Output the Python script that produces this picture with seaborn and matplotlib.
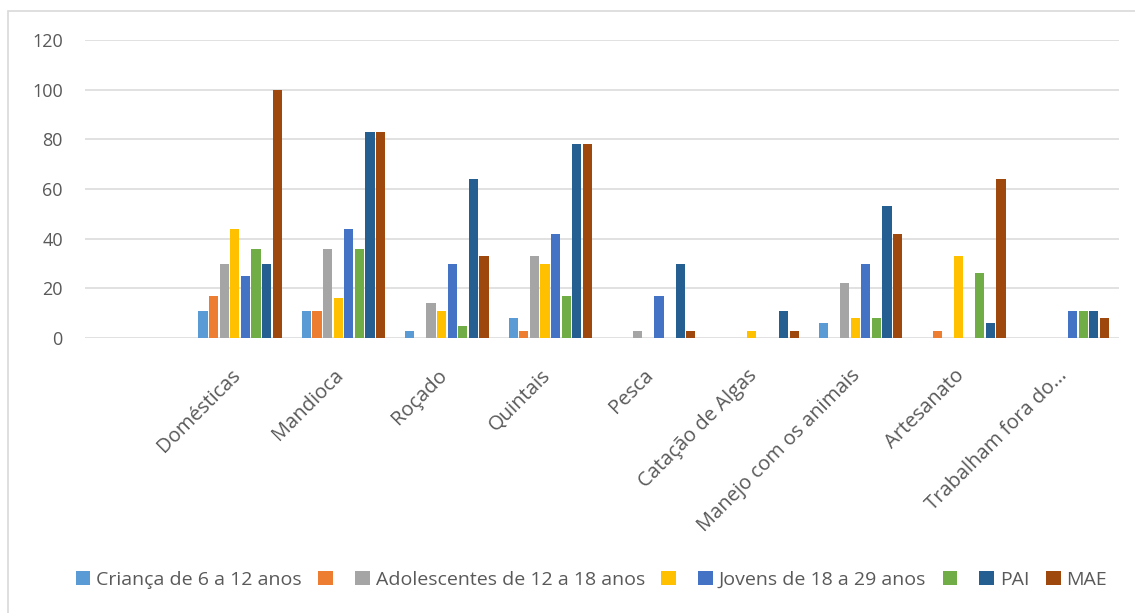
import pandas as pd
import matplotlib.pyplot as plt
import seaborn as sns
from matplotlib.patches import Patch, Rectangle
from matplotlib.transforms import ScaledTranslation

categorias = ["Domésticas", "Mandioca", "Roçado", "Quintais", "Pesca",
              "Catação de Algas", "Manejo com os animais", "Artesanato",
              "Trabalham fora do..."]

serie_nomes = ["Criança de 6 a 12 anos", "", "Adolescentes de 12 a 18 anos", "",
               "Jovens de 18 a 29 anos", "", "PAI", "MAE"]

crianca = [11, 11, 3, 8, 0, 0, 6, 0, 0]
serie2 = [17, 11, 0, 3, 0, 0, 0, 3, 0]
adolescentes = [30, 36, 14, 33, 3, 0, 22, 0, 0]
serie4 = [44, 16, 11, 30, 0, 3, 8, 33, 0]
jovens = [25, 44, 30, 42, 17, 0, 30, 0, 11]
serie6 = [36, 36, 5, 17, 0, 0, 8, 26, 11]
pai = [30, 83, 64, 78, 30, 11, 53, 6, 11]
mae = [100, 83, 33, 78, 3, 3, 42, 64, 8]

cores = ["#5B9BD5", "#ED7D31", "#A5A5A5", "#FFC000",
         "#4472C4", "#70AD47", "#255E91", "#9E480E"]

series = [crianca, serie2, adolescentes, serie4, jovens, serie6, pai, mae]
hue_ids = ["s%d" % i for i in range(len(series))]

rows = []
for sid, vals in zip(hue_ids, series):
    for cat, v in zip(categorias, vals):
        rows.append({"categoria": cat, "serie": sid, "valor": v})
df = pd.DataFrame(rows)

sns.set_style("white")
plt.rcParams["font.family"] = ["Open Sans", "DejaVu Sans"]

fig = plt.figure(figsize=(11.35, 6.13), dpi=100)
ax = fig.add_axes([0.0749, 0.4486, 0.911, 0.4861])

# primeira categoria vazia, como no original
ordem = [""] + categorias
sns.barplot(data=df, x="categoria", y="valor", hue="serie", order=ordem,
            hue_order=hue_ids, palette=cores, width=0.82, gap=0.12,
            errorbar=None, ax=ax, legend=False, linewidth=0, saturation=1)

ax.set_ylim(0, 120)
ax.set_yticks(range(0, 121, 20))
ax.set_xlim(-0.5, len(ordem) - 0.5)
ax.set_xlabel("")
ax.set_ylabel("")
ax.grid(axis="y", color="#D9D9D9", linewidth=1.1)
ax.set_axisbelow(True)
for s in ax.spines.values():
    s.set_visible(False)
ax.tick_params(axis="both", length=0, colors="#595959", labelsize=13)
ax.tick_params(axis="y", pad=16)
ax.tick_params(axis="x", pad=20, labelsize=14.5)
deslocamento = ScaledTranslation(-10 / 100, 0, fig.dpi_scale_trans)
for lab in ax.get_xticklabels():
    lab.set_rotation(45)
    lab.set_ha("right")
    lab.set_rotation_mode("anchor")
    lab.set_transform(lab.get_transform() + deslocamento)

handles = [Patch(facecolor=c, edgecolor="none") for c in cores]
fig.legend(handles, serie_nomes, loc="center", bbox_to_anchor=(0.521, 0.054),
           ncol=8, frameon=False, handlelength=0.75, handleheight=0.75,
           handletextpad=0.3, columnspacing=0.85,
           prop={"family": ["Open Sans"], "size": 14},
           labelcolor="#595959")

# borda do gráfico (recortada à direita e embaixo)
fig.patches.append(Rectangle((8 / 1135, -0.1), 1.2, 1 - 11 / 613 + 0.1,
                             transform=fig.transFigure, fill=False,
                             edgecolor="#D9D9D9", linewidth=1.2))

fig.savefig("out.png", dpi=100)
